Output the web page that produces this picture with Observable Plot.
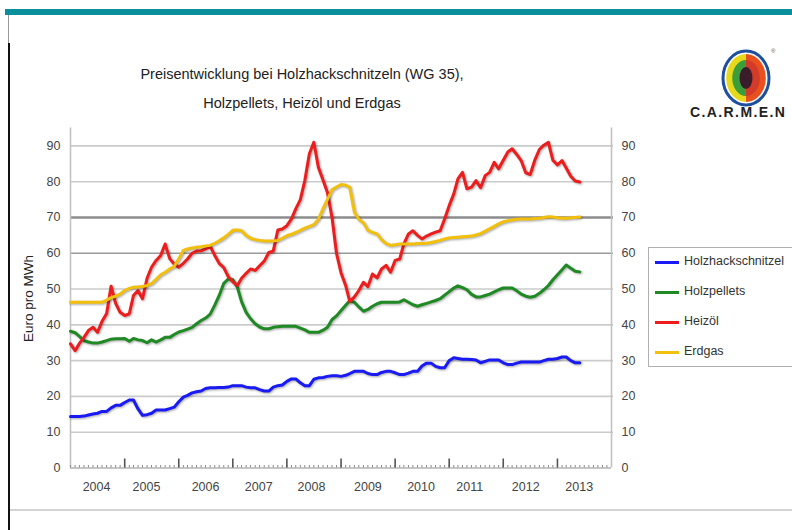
<!DOCTYPE html>
<html><head><meta charset="utf-8">
<script src="https://cdn.jsdelivr.net/npm/d3@7"></script>
<script src="https://cdn.jsdelivr.net/npm/@observablehq/plot@0.6"></script>
<style>
html,body{margin:0;padding:0;background:#fff;}
body{width:792px;height:530px;overflow:hidden;position:relative;font-family:"Liberation Sans",Arial,sans-serif;color:#222;}
#topbar{position:absolute;left:5px;top:9px;width:787px;height:6px;background:#0a8f9b;}
#lborder1{position:absolute;left:8px;top:15px;width:1px;height:28px;background:#999;}
#lborder2{position:absolute;left:8px;top:43px;width:2px;height:487px;background:#111;}
#bline{position:absolute;left:10px;top:509px;width:782px;height:2px;background:#d4d4d4;}
#chart{position:absolute;left:0;top:0;}
.title{position:absolute;left:102px;width:400px;text-align:center;font-size:14.5px;color:#222;white-space:nowrap;}
#ytitle{position:absolute;left:-22px;top:291px;width:100px;text-align:center;font-size:13.5px;color:#222;transform:rotate(-90deg);white-space:nowrap;}
#legend{position:absolute;left:648px;top:247px;width:160px;height:118px;border:1px solid #b0b0b0;background:#fff;}
.li{position:absolute;left:6px;height:16px;font-size:12.5px;color:#333;white-space:nowrap;}
.li span.sw{position:absolute;left:0;top:7px;width:24px;height:3px;}
.li span.tx{position:absolute;left:29px;top:0;}
#logo{position:absolute;left:692px;top:47px;width:102px;height:80px;}
#logotext{position:absolute;left:690px;top:104px;font-size:14px;font-weight:bold;letter-spacing:1.4px;color:#222;white-space:nowrap;}
g[aria-label="line"] path{filter:drop-shadow(1px 1.5px 0.8px rgba(0,0,0,0.35));}
</style>
</head><body>
<div id="topbar"></div>
<div id="lborder1"></div>
<div id="lborder2"></div>
<div id="bline"></div>
<div id="chart"></div>
<div class="title" style="top:66px">Preisentwicklung bei Holzhackschnitzeln (WG 35),</div>
<div class="title" style="top:95px">Holzpellets, Heizöl und Erdgas</div>
<div id="ytitle">Euro pro MWh</div>
<div id="legend"></div>
<svg id="logo" viewBox="0 0 102 80">
  <ellipse cx="54" cy="31" rx="23" ry="27" fill="none" stroke="#1d4f9e" stroke-width="3"/>
  <path d="M54,7 A19,23 0 0 0 54,55 Z" fill="#e6d81a"/>
  <path d="M54,7 A19,23 0 0 1 54,55 Z" fill="#e8501e"/>
  <path d="M54,13 A13,17 0 0 0 54,49 Z" fill="#3c9e3a"/>
  <path d="M54,13 A13,17 0 0 1 54,49 Z" fill="#d23a2a"/>
  <ellipse cx="54" cy="31" rx="6.5" ry="11" fill="#3b1c2b"/>
  <text x="79" y="6" font-size="6" fill="#555">®</text>
</svg>
<div id="logotext">C.A.R.M.E.N</div>
<script>
// ---- data (Euro pro MWh), monthly from Jan 2004 to Jun 2013 ----
const seriesNames = ["Holzhackschnitzel", "Holzpellets", "Heizöl", "Erdgas"];
const seriesColors = ["#1a1af5", "#1f8a24", "#ee1d1d", "#f2c00c"];

const holzhackschnitzel = [14.4,14.4,14.4,14.5,14.8,15.1,15.3,15.8,15.8,16.8,17.5,17.5,18.3,19,19,16.5,14.7,14.9,15.3,16.2,
  16.2,16.2,16.6,17,18.5,19.8,20.3,21,21.3,21.5,22.2,22.4,22.4,22.5,22.5,22.6,23,23,23,22.6,
  22.4,22.4,21.9,21.5,21.5,22.6,23,23.2,24.2,24.9,24.9,23.8,23,23,24.8,25.2,25.3,25.6,25.8,25.8,
  25.6,25.9,26.4,27,27,27,26.4,26.1,26.1,26.7,27,27,26.6,26.1,26.1,26.5,27,27,28.5,29.3,
  29.3,28.4,28,28,30,30.8,30.6,30.4,30.4,30.3,30.2,29.4,29.8,30.2,30.2,30.2,29.4,28.9,28.9,29.3,
  29.6,29.6,29.6,29.6,29.6,30,30.4,30.4,30.6,31,31,30,29.4,29.4];
const holzpellets = [38.2,37.8,36.8,35.6,35.2,34.9,34.9,35.2,35.6,36,36.1,36.1,36.2,35.4,36.2,35.8,35.6,35,35.8,35.2,
  35.8,36.5,36.5,37.3,38,38.4,38.8,39.3,40.3,41.2,41.9,43,45.5,48.2,51.6,52.8,52.6,50.5,46.5,43.5,
  41.7,40.3,39.4,38.9,38.9,39.3,39.5,39.6,39.6,39.6,39.6,39.1,38.6,37.9,37.9,37.9,38.5,39.3,41.5,42.5,
  44,45.5,46.8,46.3,45,43.8,44.3,45.2,45.9,46.3,46.3,46.3,46.3,46.4,47,46.3,45.6,45.2,45.6,46,
  46.4,46.8,47.3,48.3,49.3,50.3,50.9,50.4,49.8,48.5,47.8,47.8,48.2,48.6,49.2,49.8,50.3,50.3,50.3,49.5,
  48.6,48,47.7,48,48.8,49.8,51,52.6,54,55.4,56.7,55.8,55,54.8];
const heizoel = [34.7,32.8,34.8,36.5,38.4,39.3,37.9,41,43.2,50.8,46,43.5,42.6,43.1,48.2,49.6,47.3,53,56.1,58,
  59.4,62.6,58.5,57,56.1,57.2,58.4,60,60.6,60.7,61.2,62,59.4,57.2,56,53.5,52,51,53,54.4,
  55.6,55.2,56.5,57.8,60.2,60.6,66.5,66.8,67.7,69.6,72.4,75,80.3,87.8,91,84,80.5,77,70,60,
  54.5,51,46.5,47.8,49.6,51.9,50.7,54.2,53.1,55.6,56.6,54.7,58,58.4,62.6,65.4,66.3,65,64,64.8,
  65.4,65.9,66.3,69.6,73.3,76.6,80.8,82.6,78,78.5,80.3,78.3,81.7,82.6,85.4,83.6,86,88.3,89.2,87.6,
  85.9,82.5,82,86,89,90.2,91,86,84.7,85.9,83.8,81.5,80.2,79.9];
const erdgas = [46.3,46.3,46.3,46.3,46.3,46.3,46.3,46.3,46.9,47.6,48,48.6,49.6,50.2,50.5,50.6,50.7,51,51.5,52.7,
  54,54.7,55.6,56.3,58.5,60.8,61.2,61.5,61.7,61.8,62,62.2,62.8,63.5,64.3,65.3,66.4,66.5,66.3,65,
  64.2,63.8,63.6,63.4,63.4,63.4,63.6,64.2,64.9,65.3,65.8,66.4,67,67.5,68,69.5,72.5,75,77.8,78.5,
  79.2,79,78.4,71.5,69.5,68.5,66.4,65.8,65.4,63.8,62.7,62.2,62.4,62.6,62.6,62.6,62.6,62.7,62.7,62.8,
  63,63.3,63.6,64,64.3,64.4,64.5,64.6,64.7,64.8,65.1,65.5,66.2,66.8,67.5,68.2,68.8,69.1,69.3,69.5,
  69.6,69.6,69.6,69.7,69.8,70,70.2,70.1,69.9,69.8,69.8,69.9,70,70.1];

const yTicks = [0,10,20,30,40,50,60,70,80,90];
const yStrongGrid = [70];
const yMediumGrid = [60];
const yearLabels = ["2004","2005","2006","2007","2008","2009","2010","2011","2012","2013"];
const yearLabelDates = ["2004-06-25","2005-05-28","2006-07-01","2007-06-25","2008-06-15","2009-07-01","2010-06-25","2011-05-20","2012-06-01","2013-05-28"];

// ---- build ----
const months = d3.utcMonths(new Date("2004-01-01"), new Date("2013-07-01"));
const allSeries = [holzhackschnitzel, holzpellets, heizoel, erdgas];
const rows = [];
allSeries.forEach((vals, s) => vals.forEach((v, i) => rows.push({date: months[i], value: v, series: seriesNames[s]})));

const xDomain = [new Date("2004-01-01"), new Date("2014-01-01")];
const minorTicks = d3.utcMonths(xDomain[0], xDomain[1]);
const majorTicks = d3.utcYears(new Date("2005-01-01"), new Date("2013-06-01"));
const labelDates = yearLabelDates.map(d => new Date(d));
const labelMap = new Map(labelDates.map((d, i) => [+d, yearLabels[i]]));

const chart = Plot.plot({
  width: 792, height: 530,
  marginLeft: 70, marginRight: 181, marginTop: 127.5, marginBottom: 62.5,
  style: {fontFamily: "'Liberation Sans', Arial, sans-serif", fontSize: "12.5px", color: "#444", background: "transparent", overflow: "visible"},
  x: {type: "utc", domain: xDomain},
  y: {domain: [0, 95]},
  color: {domain: seriesNames, range: seriesColors},
  marks: [
    Plot.ruleY(yTicks.filter(v => v > 0 && !yStrongGrid.includes(v) && !yMediumGrid.includes(v)), {stroke: "#cbcbcb", strokeWidth: 1.6, insetRight: -2}),
    Plot.ruleY(yMediumGrid, {stroke: "#9a9a9a", strokeWidth: 1.6, insetRight: -2}),
    Plot.ruleY(yStrongGrid, {stroke: "#8c8c8c", strokeWidth: 2.4, insetRight: -2}),
    Plot.ruleX(xDomain, {stroke: "#c2c2c2", strokeWidth: 1.6}),
    Plot.ruleY([0], {stroke: "#b5b5b5", strokeWidth: 1.6}),
    Plot.ruleX(minorTicks, {y1: 0, y2: 0, insetTop: -2.5, stroke: "#8a8a8a", strokeWidth: 1}),
    Plot.ruleX(majorTicks, {y1: 0, y2: 0, insetTop: -9, stroke: "#555", strokeWidth: 1.6}),
    Plot.axisY(yTicks, {anchor: "left", tickSize: 0, tickPadding: 10, label: null, fill: "#444"}),
    Plot.axisY(yTicks, {anchor: "right", tickSize: 0, tickPadding: 10, label: null, fill: "#444"}),
    Plot.axisX(labelDates, {anchor: "bottom", tickSize: 0, tickPadding: 14, label: null, tickFormat: d => labelMap.get(+d), fill: "#444"}),
    Plot.line(rows, {x: "date", y: "value", z: "series", stroke: "series", strokeWidth: 3, curve: "linear", strokeLinejoin: "round"})
  ]
});
document.getElementById("chart").appendChild(chart);

// legend
const legend = document.getElementById("legend");
const legendTops = [6, 36, 66, 96];
seriesNames.forEach((name, i) => {
  const li = document.createElement("div");
  li.className = "li";
  li.style.top = legendTops[i] + "px";
  li.innerHTML = `<span class="sw" style="background:${seriesColors[i]}"></span><span class="tx">${name}</span>`;
  legend.appendChild(li);
});
</script>
</body></html>
